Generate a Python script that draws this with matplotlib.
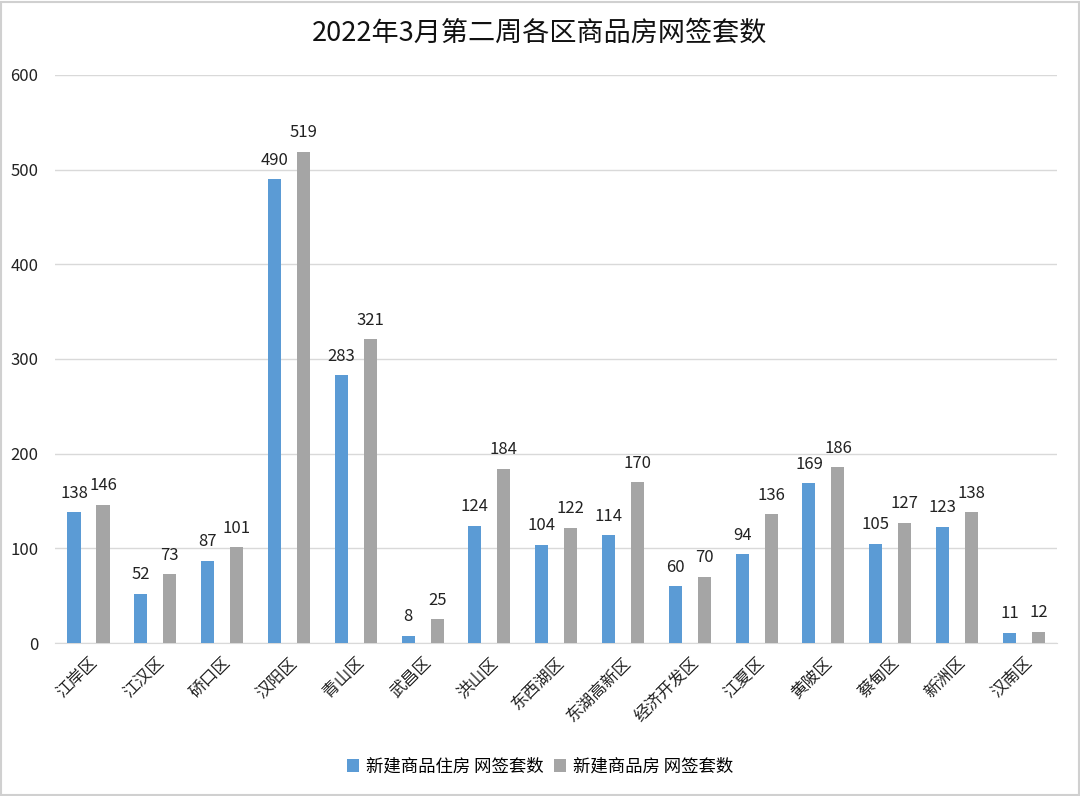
import numpy as np
import matplotlib
matplotlib.use('Agg')
import matplotlib.pyplot as plt
from matplotlib.patches import Rectangle

plt.rcParams['font.family'] = ['Noto Sans CJK SC', 'DejaVu Sans']

districts = ['江岸区', '江汉区', '硚口区', '汉阳区', '青山区', '武昌区', '洪山区', '东西湖区',
             '东湖高新区', '经济开发区', '江夏区', '黄陂区', '蔡甸区', '新洲区', '汉南区']
residential = [138, 52, 87, 490, 283, 8, 124, 104, 114, 60, 94, 169, 105, 123, 11]
commercial = [146, 73, 101, 519, 321, 25, 184, 122, 170, 70, 136, 186, 127, 138, 12]
series_names = ['新建商品住房 网签套数', '新建商品房 网签套数']

fig = plt.figure(figsize=(10.8, 7.96), dpi=100)
ax = fig.add_axes([0.051, 0.192, 0.928, 0.714])

x = np.arange(len(districts))
w = 0.195
b1 = ax.bar(x - 0.217, residential, w, color='#5b9bd5', label=series_names[0], zorder=3)
b2 = ax.bar(x + 0.217, commercial, w, color='#a5a5a5', label=series_names[1], zorder=3)

for bars in (b1, b2):
    for r in bars:
        ax.text(r.get_x() + r.get_width() / 2, r.get_height() + 11, str(int(r.get_height())),
                ha='center', va='bottom', fontsize=12, color='#222222')

ax.set_xlim(-0.5, len(districts) - 0.5)
ax.set_ylim(0, 600)
ax.set_yticks(range(0, 601, 100))
ax.yaxis.grid(True, color='#d9d9d9', linewidth=1)
ax.set_axisbelow(True)
for s in ['top', 'right', 'left']:
    ax.spines[s].set_visible(False)
ax.spines['bottom'].set_color('#d9d9d9')
ax.tick_params(axis='both', length=0, labelsize=12, colors='#222222')
ax.tick_params(axis='y', pad=12)
ax.set_xticks(x)
ax.set_xticklabels(districts, rotation=45, ha='right', rotation_mode='anchor', fontsize=12)
ax.tick_params(axis='x', pad=8)

fig.text(0.5, 0.958, '2022年3月第二周各区商品房网签套数', ha='center', va='center', fontsize=19.5, color='#111111')

fig.legend(loc='center', bbox_to_anchor=(0.5, 0.037), ncol=2, frameon=False, fontsize=12.5,
           handlelength=0.7, handleheight=0.7, handletextpad=0.4, columnspacing=0.6)

fig.add_artist(Rectangle((0.001, 0.001), 0.998, 0.997, transform=fig.transFigure,
                         fill=False, edgecolor='#d0d0d0', linewidth=1.5))

fig.savefig('out.png', dpi=100)
